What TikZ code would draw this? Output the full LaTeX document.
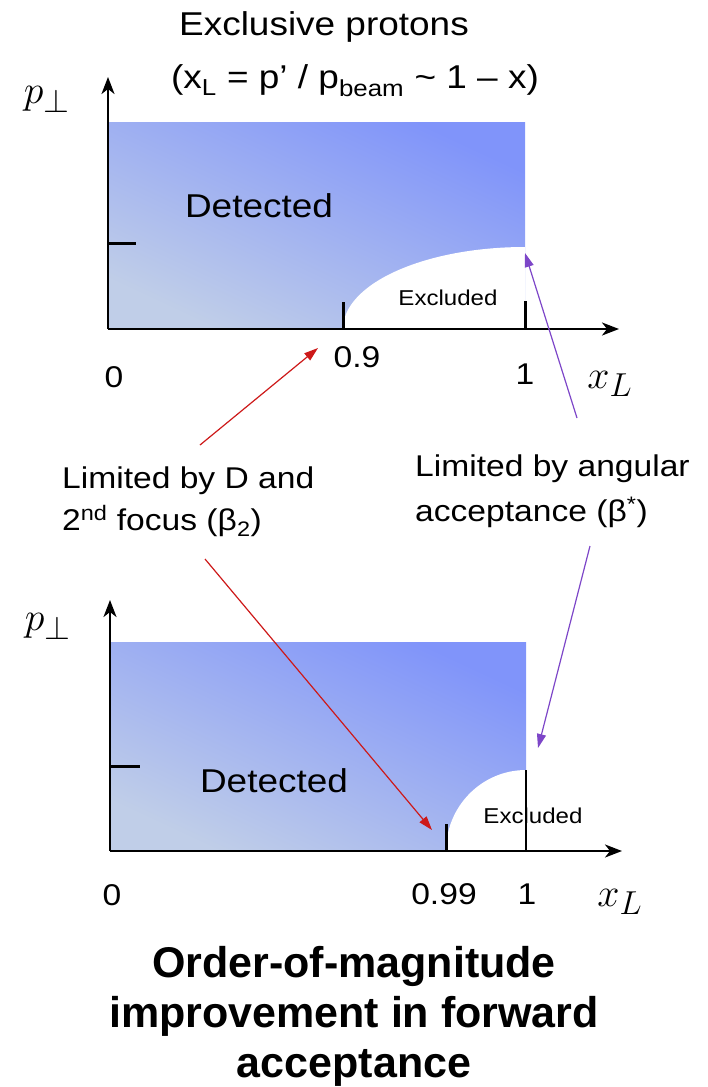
\documentclass[tikz,border=0pt]{standalone}
\usepackage{fontspec}
\setmainfont[FakeStretch=1.12]{Liberation Sans}
\newfontfamily\boldfam[BoldFont={Liberation Sans Bold}]{Liberation Sans}
\usetikzlibrary{arrows.meta}
\definecolor{lightblue}{RGB}{192,206,232}
\definecolor{deepblue}{RGB}{128,148,250}
\definecolor{limred}{RGB}{205,25,25}
\definecolor{limpurple}{RGB}{125,70,200}
\newcommand{\titlesize}{\fontsize{33}{40}\selectfont}
\newcommand{\labsize}{\fontsize{30}{36}\selectfont}
\newcommand{\smallsize}{\fontsize{21.5}{26}\selectfont}
\newcommand{\detsize}{\fontsize{33}{40}\selectfont}
\newcommand{\conclsize}{\boldfam\bfseries\fontsize{43}{50}\selectfont}
\tikzset{
 axisline/.style={line width=2.3pt,-{Stealth[length=17pt,width=13pt,inset=5pt]}},
 tickline/.style={line width=3pt},
 pointer/.style={line width=1.2pt,-{Triangle[length=14pt,width=9pt]}},
 detect/.style={bottom color=lightblue,top color=deepblue,shading angle=-25},
 txt/.style={inner sep=0pt,anchor=base},
 mathlab/.style={txt,font=\fontsize{24.88}{30}\selectfont,scale=1.6},
}
\begin{document}
\begin{tikzpicture}[x=1pt,y=-1pt]
 \useasboundingbox (0,0) rectangle (707,1087);
 \path
 (108,329) coordinate (o1)
 (108,77)  coordinate (ytip1)
 (619,329) coordinate (xtip1)
 (525,329) coordinate (one1)
 (343,329) coordinate (cut1)
 (110,851) coordinate (o2)
 (110,600) coordinate (ytip2)
 (622,851) coordinate (xtip2)
 (526,851) coordinate (one2)
 (446,851) coordinate (cut2)
 (200,445) coordinate (redtail1)
 (318,348) coordinate (redhead1)
 (577,418) coordinate (purtail1)
 (525,253) coordinate (purhead1)
 (205,559) coordinate (redtail2)
 (432,830) coordinate (redhead2)
 (590,546) coordinate (purtail2)
 (538,748) coordinate (purhead2)
 ;

 % upper panel
 \shade[detect] (108,122) rectangle (one1);
 \fill[white] (cut1) arc[start angle=180,end angle=270,x radius=182,y radius=82] -- (one1) -- cycle;
 \draw[axisline] (o1) -- (ytip1);
 \draw[axisline] (o1) -- (xtip1);
 \draw[tickline] (108,243) -- ++(28,0);
 \draw[tickline] (cut1) -- ++(0,-27);
 \draw[tickline] (one1) -- ++(0,-28);

 % lower panel
 \shade[detect] (110,642) rectangle (one2);
 \fill[white] (cut2) arc[start angle=180,end angle=270,x radius=80,y radius=81] -- (one2) -- cycle;
 \draw[axisline] (o2) -- (ytip2);
 \draw[axisline] (o2) -- (xtip2);
 \draw[tickline] (110,766) -- ++(30,0);
 \draw[tickline] (cut2) -- ++(0,-27);
 \draw[line width=2.3pt] (one2) -- ++(0,-81);

 \draw
 (324,35) node[txt,font=\titlesize] (title1) {Exclusive protons}
 (355,88) node[txt,font=\titlesize] (title2) {(x\textsubscript{L} = p’ / p\textsubscript{beam} \textasciitilde{} 1 – x)}
 (47,103) node[mathlab] (py1) {$p_\perp$}
 (259,217) node[txt,font=\detsize] (detected1) {Detected}
 (448,305) node[txt,font=\smallsize] (excluded1) {Excluded}
 (114,387) node[txt,font=\labsize] (zero1) {0}
 (357,367) node[txt,font=\labsize] (ninety) {0.9}
 (525,384) node[txt,font=\labsize] (unit1) {1}
 (610,388) node[mathlab] (xl1) {$x_L$}
 ;

 \draw
 (62,488) node[txt,anchor=base west,font=\labsize] (limD1) {Limited by D and}
 (62,530) node[txt,anchor=base west,font=\labsize] (limD2) {2\textsuperscript{nd} focus (β\textsubscript{2})}
 (415,476) node[txt,anchor=base west,font=\labsize] (limA1) {Limited by angular}
 (415,521) node[txt,anchor=base west,font=\labsize] (limA2) {acceptance (β\textsuperscript{*})}
 ;

 \draw
 (48,630) node[mathlab] (py2) {$p_\perp$}
 (274,792) node[txt,font=\detsize] (detected2) {Detected}
 (533,823) node[txt,font=\smallsize] (excluded2) {Excluded}
 (112,905) node[txt,font=\labsize] (zero2) {0}
 (444,904) node[txt,font=\labsize] (ninetynine) {0.99}
 (527,904) node[txt,font=\labsize] (unit2) {1}
 (620,906) node[mathlab] (xl2) {$x_L$}
 ;

 \draw[pointer,limred] (redtail1) -- (redhead1);
 \draw[pointer,limpurple] (purtail1) -- (purhead1);
 \draw[pointer,limred] (redtail2) -- (redhead2);
 \draw[pointer,limpurple] (purtail2) -- (purhead2);

 \draw
 (354,977) node[txt,font=\conclsize] (concl1) {Order-of-magnitude}
 (354,1027) node[txt,font=\conclsize] (concl2) {improvement in forward}
 (354,1077) node[txt,font=\conclsize] (concl3) {acceptance}
 ;
\end{tikzpicture}
\end{document}
